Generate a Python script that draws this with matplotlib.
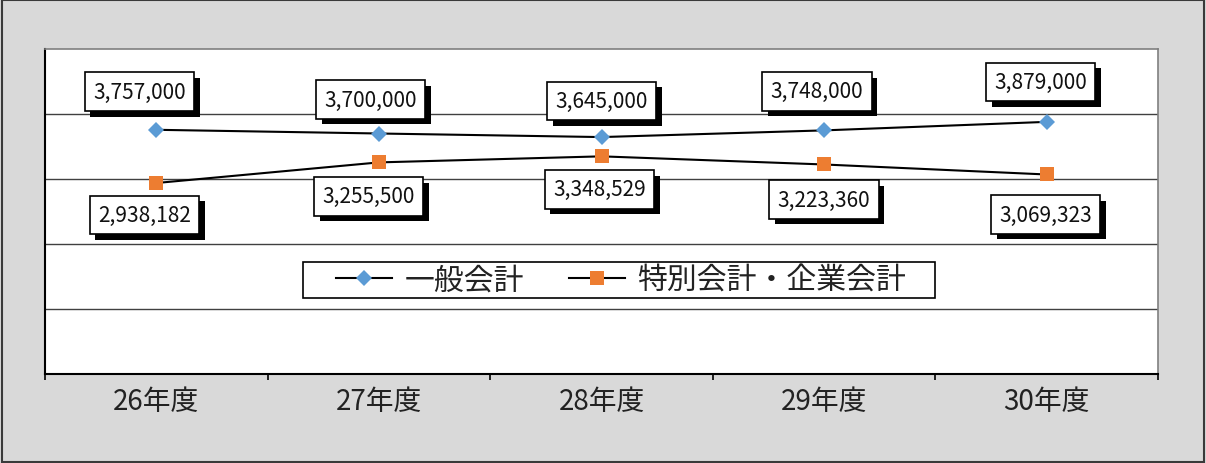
import matplotlib
matplotlib.use("Agg")
import matplotlib.pyplot as plt
import matplotlib.patheffects as pe
from matplotlib.patches import Rectangle
from matplotlib.ticker import FixedLocator, NullFormatter, FixedFormatter

plt.rcParams['font.family'] = ['Noto Sans CJK JP', 'DejaVu Sans']

# ---- data ----
categories = ["26年度", "27年度", "28年度", "29年度", "30年度"]
general = [3757000, 3700000, 3645000, 3748000, 3879000]
special = [2938182, 3255500, 3348529, 3223360, 3069323]
series_names = ["一般会計", "特別会計・企業会計"]

# label offsets (pixels) relative to points
general_offsets = [(-17, 38), (-8, 34), (0, 36), (-7, 39), (-6, 40)]
special_offsets = [(-12, -32), (-10, -34), (-2, -33), (0, -35), (-1, -40)]

DPI = 100
W, H = 1206, 464
AX_L, AX_R, AX_T, AX_B = 45, 1158, 50, 375
fig = plt.figure(figsize=(W/DPI, H/DPI), dpi=DPI, facecolor='#D9D9D9')
ax = fig.add_axes([AX_L/W, 1-AX_B/H, (AX_R-AX_L)/W, (AX_B-AX_T)/H])
ax.set_facecolor('white')

def ax_x(px):
    return (px - AX_L) / (AX_R - AX_L)

def ax_y(py):
    return (AX_B - py) / (AX_B - AX_T)

x = list(range(len(categories)))
ax.plot(x, general, color='black', lw=1.5, marker='D', ms=8.5,
        mfc='#5B9BD5', mec='#5B9BD5', mew=0, label=series_names[0], zorder=4)
ax.plot(x, special, color='black', lw=1.5, marker='s', ms=9.5,
        mfc='#ED7D31', mec='#ED7D31', mew=0, label=series_names[1], zorder=4)

ax.set_xlim(-0.5, len(categories) - 0.5)
ax.set_ylim(0, 5000000)

# gridlines
for yv in [1000000, 2000000, 3000000, 4000000]:
    ax.axhline(yv, color='#404040', lw=1.0, zorder=1)

ax.set_yticks([])
ax.xaxis.set_major_locator(FixedLocator([i - 0.5 for i in range(len(categories) + 1)]))
ax.xaxis.set_major_formatter(NullFormatter())
ax.xaxis.set_minor_locator(FixedLocator(x))
ax.xaxis.set_minor_formatter(FixedFormatter(categories))
ax.tick_params(axis='x', which='major', direction='out', length=4.5, width=1.2, color='black')
ax.tick_params(axis='x', which='minor', length=0, pad=9, labelsize=20, labelcolor='#222222')

for s in ['top', 'right']:
    ax.spines[s].set_color('#7f7f7f')
    ax.spines[s].set_linewidth(1.2)
for s in ['left', 'bottom']:
    ax.spines[s].set_color('black')
    ax.spines[s].set_linewidth(1.5)

def label(xi, yi, off):
    t = ax.annotate(f"{yi:,}", (xi, yi), xytext=(off[0]*72/DPI, off[1]*72/DPI),
                    textcoords='offset points', ha='center', va='center',
                    fontsize=15, color='#111111', zorder=6,
                    bbox=dict(boxstyle='square,pad=0.4', fc='white', ec='black', lw=1.2))
    t.get_bbox_patch().set_path_effects([
        pe.withSimplePatchShadow(offset=(4, -4), shadow_rgbFace='black', alpha=1.0)])

for xi, yi, off in zip(x, general, general_offsets):
    label(xi, yi, off)
for xi, yi, off in zip(x, special, special_offsets):
    label(xi, yi, off)

# legend frame drawn separately (Excel style wide padding)
ax.add_patch(Rectangle((ax_x(303), ax_y(299)), ax_x(935) - ax_x(303), ax_y(263) - ax_y(299),
                       transform=ax.transAxes, fc='white', ec='black', lw=1.2, zorder=5))
leg = ax.legend(loc='center', bbox_to_anchor=(ax_x(621), ax_y(281)), ncol=2,
                fontsize=21.5, frameon=False,
                handlelength=1.9, handletextpad=0.4, columnspacing=1.5,
                borderpad=0, borderaxespad=0)
leg.set_zorder(6)
for tx in leg.get_texts():
    tx.set_color('#222222')

fig.patches.append(Rectangle((0.002, 0.002), 0.996, 0.996, transform=fig.transFigure,
                             fill=False, ec='#3a3a3a', lw=1.5))

fig.savefig('out.png', dpi=DPI, facecolor=fig.get_facecolor())
